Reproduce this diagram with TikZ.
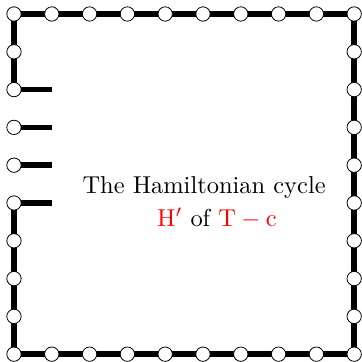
\documentclass[tikz,border=0pt]{standalone}
\usepackage{amsmath}
\usepackage{xcolor}
\usetikzlibrary{backgrounds}
\tikzset{
  vtx/.style={circle,draw,fill=white,inner sep=0pt,minimum size=0.38cm,line width=0.6pt},
  cyc/.style={line width=4.2pt},
  caption/.style={transform shape,scale=1.84,inner sep=0pt},
}

\begin{document}
\begin{tikzpicture}
      \useasboundingbox (-0.37,-0.19) rectangle (9.207,9.37);
      % vertices on the border
      \foreach \j in {0,...,9}{
        \node[vtx] (l\j) at (0,\j) {};
        \node[vtx] (r\j) at (9,\j) {};
      }
      \foreach \i in {1,...,8}{
        \node[vtx] (t\i) at (\i,9) {};
        \node[vtx] (b\i) at (\i,0) {};
      }
      \foreach \j in {4,...,7}
        \coordinate (s\j) at (1,\j);
      \begin{pgfonlayer}{background}
        \draw[cyc] (l9.center) foreach \i in {1,...,8} {-- (t\i.center)} -- (r9.center)
          foreach \j in {8,...,0} {-- (r\j.center)};
        \draw[cyc] (l0.center) foreach \i in {1,...,8} {-- (b\i.center)} -- (r0.center);
        \draw[cyc] (l9.center) -- (l8.center) -- (l7.center);
        \draw[cyc] (l4.center) -- (l3.center) -- (l2.center) -- (l1.center) -- (l0.center);
        \foreach \j in {4,...,7}
          \draw[cyc] (l\j.center) -- (s\j);
      \end{pgfonlayer}
      \node[caption] (cap1) at (5.03,4.42) {The Hamiltonian cycle};
      \node[caption] (cap2) at (5.37,3.6) {\textcolor{red}{$\mathrm{H}'$} of \textcolor{red}{$\mathrm{T}-\mathrm{c}$}};
    \end{tikzpicture}
\end{document}
